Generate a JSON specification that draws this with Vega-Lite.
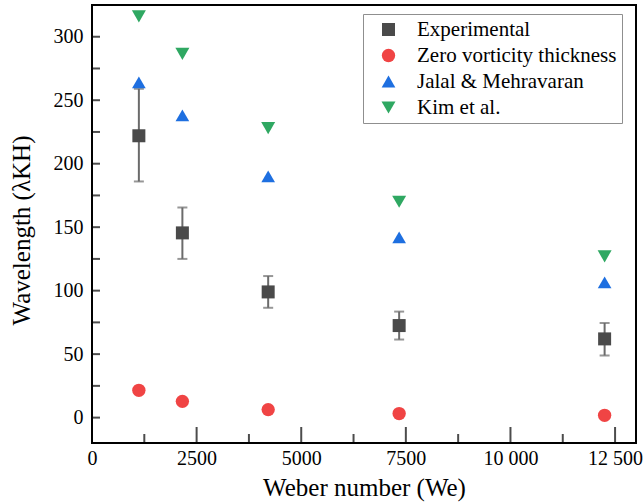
{
  "$schema": "https://vega.github.io/schema/vega-lite/v6.json",
  "autosize": {"type": "none"},
  "padding": {"left": 92, "top": 5, "right": 8, "bottom": 61},
  "width": 544,
  "height": 438,
  "background": "white",
  "config": {
    "view": {"stroke": "black", "strokeWidth": 2},
    "font": "Liberation Serif",
    "axis": {"grid": false, "domain": false, "ticks": false, "labelFlush": false, "labelFont": "Liberation Serif", "titleFont": "Liberation Serif", "labelColor": "black", "titleColor": "black", "titleFontWeight": "normal"}
  },
  "datasets": {
    "points": [
      {"We": 1120, "series": "Experimental", "value": 222, "lo": 186, "hi": 259},
      {"We": 2160, "series": "Experimental", "value": 145.5, "lo": 125, "hi": 165.5},
      {"We": 4210, "series": "Experimental", "value": 99, "lo": 86.5, "hi": 111.5},
      {"We": 7340, "series": "Experimental", "value": 72.5, "lo": 61.5, "hi": 83.5},
      {"We": 12250, "series": "Experimental", "value": 62, "lo": 49, "hi": 74.5},
      {"We": 1120, "series": "Zero vorticity thickness", "value": 21.5},
      {"We": 2160, "series": "Zero vorticity thickness", "value": 12.8},
      {"We": 4210, "series": "Zero vorticity thickness", "value": 6.3},
      {"We": 7340, "series": "Zero vorticity thickness", "value": 3.2},
      {"We": 12250, "series": "Zero vorticity thickness", "value": 1.8},
      {"We": 1120, "series": "Jalal & Mehravaran", "value": 264},
      {"We": 2160, "series": "Jalal & Mehravaran", "value": 238},
      {"We": 4210, "series": "Jalal & Mehravaran", "value": 190},
      {"We": 7340, "series": "Jalal & Mehravaran", "value": 142},
      {"We": 12250, "series": "Jalal & Mehravaran", "value": 106.5},
      {"We": 1120, "series": "Kim et al.", "value": 316},
      {"We": 2160, "series": "Kim et al.", "value": 286.5},
      {"We": 4210, "series": "Kim et al.", "value": 228},
      {"We": 7340, "series": "Kim et al.", "value": 170},
      {"We": 12250, "series": "Kim et al.", "value": 127}
    ],
    "xmajor": [{"v": 2500}, {"v": 5000}, {"v": 7500}, {"v": 10000}, {"v": 12500}],
    "xminor": [{"v": 1250}, {"v": 3750}, {"v": 6250}, {"v": 8750}, {"v": 11250}],
    "yticks": [{"v": 0}, {"v": 25}, {"v": 50}, {"v": 75}, {"v": 100}, {"v": 125}, {"v": 150}, {"v": 175}, {"v": 200}, {"v": 225}, {"v": 250}, {"v": 275}, {"v": 300}, {"v": 325}]
  },
  "data": {"name": "points"},
  "layer": [
    {
      "data": {"name": "xmajor"},
      "mark": {"type": "tick", "orient": "vertical", "color": "black", "size": 32, "thickness": 2, "clip": true},
      "encoding": {
        "x": {"field": "v", "type": "quantitative"},
        "y": {"datum": -20, "type": "quantitative"}
      }
    },
    {
      "data": {"name": "xminor"},
      "mark": {"type": "tick", "orient": "vertical", "color": "black", "size": 18, "thickness": 2, "clip": true},
      "encoding": {
        "x": {"field": "v", "type": "quantitative"},
        "y": {"datum": -20, "type": "quantitative"}
      }
    },
    {
      "data": {"name": "yticks"},
      "mark": {"type": "tick", "orient": "horizontal", "color": "black", "size": 16, "thickness": 2, "clip": true},
      "encoding": {
        "x": {"datum": 0, "type": "quantitative"},
        "y": {"field": "v", "type": "quantitative"}
      }
    },
    {
      "transform": [{"filter": "datum.series === 'Experimental'"}],
      "mark": {"type": "rule", "color": "#6b6b6b", "strokeWidth": 2},
      "encoding": {
        "x": {"field": "We", "type": "quantitative"},
        "y": {"field": "lo", "type": "quantitative"},
        "y2": {"field": "hi"}
      }
    },
    {
      "transform": [{"filter": "datum.series === 'Experimental'"}, {"fold": ["lo", "hi"], "as": ["end", "endval"]}],
      "mark": {"type": "tick", "orient": "horizontal", "color": "#6b6b6b", "size": 10, "thickness": 2},
      "encoding": {
        "x": {"field": "We", "type": "quantitative"},
        "y": {"field": "endval", "type": "quantitative"}
      }
    },
    {
      "mark": {"type": "point", "filled": true, "opacity": 1},
      "encoding": {
        "x": {"field": "We", "type": "quantitative", "scale": {"domain": [0, 13000], "nice": false},
          "axis": {"orient": "bottom", "values": [0, 2500, 5000, 7500, 10000, 12500], "labelPadding": 5, "labelFontSize": 20,
            "labelExpr": "datum.value >= 10000 ? replace(format(datum.value, ','), ',', ' ') : format(datum.value, 'd')",
            "title": "Weber number (We)", "titleFontSize": 25, "titlePadding": 7}},
        "y": {"field": "value", "type": "quantitative", "scale": {"domain": [-20, 325], "nice": false, "zero": false},
          "axis": {"values": [0, 50, 100, 150, 200, 250, 300], "labelPadding": 9, "labelFontSize": 20,
            "title": "Wavelength (λKH)", "titleFontSize": 25, "titlePadding": 19, "titleY": 225}},
        "color": {"field": "series", "type": "nominal",
          "scale": {"domain": ["Experimental", "Zero vorticity thickness", "Jalal & Mehravaran", "Kim et al."], "range": ["#4a4a4a", "#f04444", "#1e6fe0", "#2fa862"]},
          "legend": {"title": null, "orient": "none", "legendX": 271, "legendY": 9, "labelFontSize": 21, "labelFont": "Liberation Serif", "labelColor": "black", "labelLimit": 300,
            "symbolSize": 200, "strokeColor": "#8f8f8f", "fillColor": "white", "padding": 5, "symbolOffset": 10, "labelOffset": 18, "rowPadding": 4, "cornerRadius": 0}},
        "shape": {"field": "series", "type": "nominal",
          "scale": {"domain": ["Experimental", "Zero vorticity thickness", "Jalal & Mehravaran", "Kim et al."], "range": ["square", "circle", "triangle-up", "triangle-down"]}},
        "size": {"field": "series", "type": "nominal", "legend": null,
          "scale": {"domain": ["Experimental", "Zero vorticity thickness", "Jalal & Mehravaran", "Kim et al."], "range": [169, 196, 289, 289]}}
      }
    }
  ]
}
